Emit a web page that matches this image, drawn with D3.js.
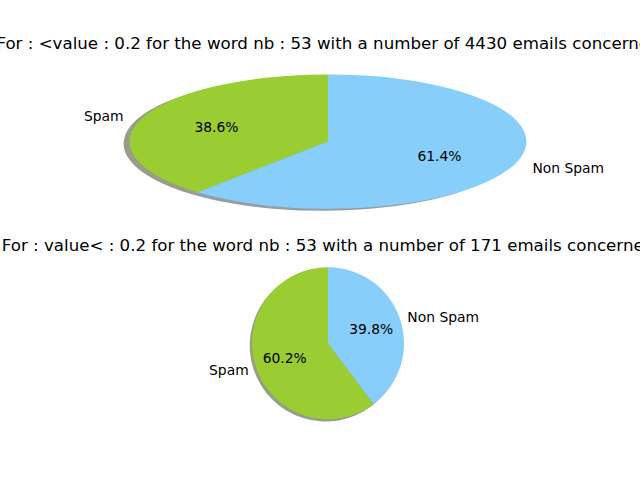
<!DOCTYPE html>
<html>
<head>
<meta charset="utf-8">
<script src="https://cdn.jsdelivr.net/npm/d3@7"></script>
<style>
  html, body { margin: 0; padding: 0; background: #fff; }
  svg { display: block; }
  text { font-family: "DejaVu Sans", sans-serif; }
</style>
</head>
<body>
<svg id="chart" width="640" height="480"></svg>
<script>
// ---- data ----
const categories = ["Spam", "Non Spam"];
const colors = ["#9ACD32", "#87CEFA"];
const topValues = [1710, 2720];      // 4430 emails
const bottomValues = [103, 68];      // 171 emails
const titles = [
  "For : <value : 0.2 for the word nb : 53 with a number of 4430 emails concerned",
  "For : value< : 0.2 for the word nb : 53 with a number of 171 emails concerned"
];

const svg = d3.select("#chart");
const W = 640, H = 480;
const axLeft = 0.125 * W, axRight = 0.9 * W;
const labelSize = (10 * 100 / 72) + "px";
const titleSize = (12 * 100 / 72) + "px";
const shadowOff = 0.03;

function shade(c) {
  const r = d3.rgb(c);
  return d3.rgb(r.r * 0.3, r.g * 0.3, r.b * 0.3).toString();
}

function drawPie(values, title, axTop, axBottom, xlim, ylim) {
  const x = d3.scaleLinear().domain(xlim).range([axLeft, axRight]);
  const y = d3.scaleLinear().domain(ylim).range([axBottom, axTop]);
  const cx = x(0), cy = y(0);
  const sx = x(1) - x(0), sy = y(0) - y(1);

  const pie = d3.pie().sort(null).startAngle(0).endAngle(-2 * Math.PI);
  const arcs = pie(values);
  const arc = d3.arc().innerRadius(0).outerRadius(1);

  // shadow
  const sh = svg.append("g")
    .attr("transform", `translate(${x(-shadowOff)},${y(-shadowOff)}) scale(${sx},${sy})`);
  sh.selectAll("path").data(arcs).join("path")
    .attr("d", arc)
    .attr("fill", (d, i) => shade(colors[i]))
    .attr("fill-opacity", 0.5);

  const g = svg.append("g")
    .attr("transform", `translate(${cx},${cy}) scale(${sx},${sy})`);
  g.selectAll("path").data(arcs).join("path")
    .attr("d", arc)
    .attr("fill", (d, i) => colors[i]);

  const total = d3.sum(values);
  arcs.forEach((d, i) => {
    const mid = (d.startAngle + d.endAngle) / 2; // d3 angle (0 at top, clockwise)
    const ux = Math.sin(mid), uy = Math.cos(mid);
    svg.append("text")
      .attr("x", x(1.1 * ux)).attr("y", y(1.1 * uy))
      .attr("text-anchor", ux < 0 ? "end" : "start")
      .attr("dominant-baseline", "central")
      .attr("font-size", labelSize)
      .attr("fill", "#000")
      .text(categories[i]);
    svg.append("text")
      .attr("x", x(0.6 * ux)).attr("y", y(0.6 * uy))
      .attr("text-anchor", "middle")
      .attr("dominant-baseline", "central")
      .attr("font-size", labelSize)
      .attr("fill", "#000")
      .text((values[i] / total * 100).toFixed(1) + "%");
  });

  svg.append("text")
    .attr("x", (axLeft + axRight) / 2)
    .attr("y", axTop - 8.3)
    .attr("text-anchor", "middle")
    .attr("font-size", titleSize)
    .attr("fill", "#000")
    .text(title);
}

const axH = 0.77 * H / 2.2;
const top1 = 0.12 * H;
const top2 = top1 + axH * 1.2;
drawPie(topValues, titles[0], top1, top1 + axH, [-1.25, 1.25], [-1.25, 1.25]);
// bottom pie has equal aspect: radius ~76px
const r2 = 76;
const half = (axRight - axLeft) / 2 / r2;
const halfY = axH / 2 / r2;
drawPie(bottomValues, titles[1], top2, top2 + axH, [-half, half], [-halfY, halfY]);
</script>
</body>
</html>
